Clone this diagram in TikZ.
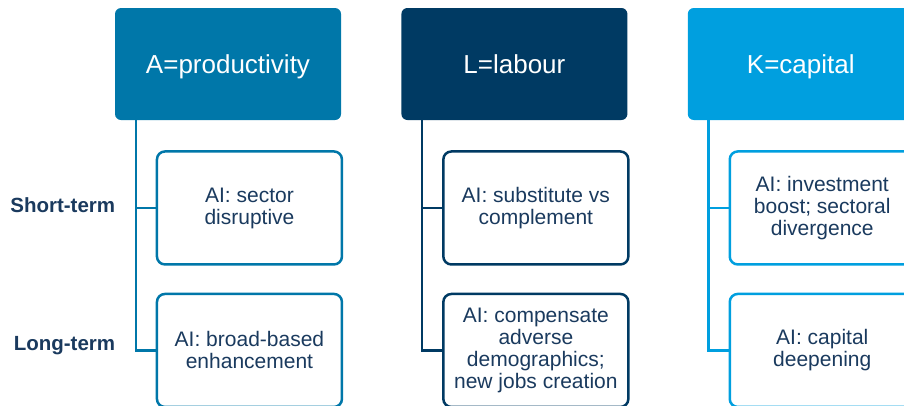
\documentclass[tikz,border=0pt]{standalone}
\usepackage{fontspec}
\setmainfont{Liberation Sans}
\usetikzlibrary{positioning}
\definecolor{prodblue}{HTML}{0077A9}
\definecolor{labnavy}{HTML}{003A63}
\definecolor{capblue}{HTML}{009FDF}
\definecolor{txtnavy}{HTML}{1A3A5E}

\begin{document}
\begin{tikzpicture}[x=1pt,y=1pt]
		\tikzstyle{head}=[rectangle, rounded corners=6pt, minimum width=226pt, minimum height=112pt, text height=18.6pt, text depth=0pt, text=white, font=\fontsize{26pt}{28pt}\selectfont, node distance=60pt]
		\tikzstyle{sub}=[rectangle, rounded corners=8pt, line width=2.5pt, fill=white, minimum width=185pt, minimum height=113pt, inner sep=0pt, align=center, text=txtnavy, font=\fontsize{21pt}{22pt}\selectfont]
		\tikzstyle{connect}=[line width=2.5pt]
		\tikzstyle{term}=[text=txtnavy, font=\bfseries\fontsize{20.5pt}{22pt}\selectfont]
		\useasboundingbox (0,0) rectangle (904,-405);
		\node[head, fill=prodblue] (a) at (228,-64) {A=productivity};
		\node[head, fill=labnavy]  (l) [right=of a] {L=labour};
		\node[head, fill=capblue]  (k) [right=of l] {K=capital};
		
		\node[sub, draw=prodblue] (a1) [below left=30pt and -2pt of a.south east] {AI: sector\\disruptive};
		\node[sub, draw=prodblue] (a2) [below=27pt of a1] {AI: broad-based\\enhancement};
		\node[sub, draw=labnavy]  (l1) [below left=30pt and -2pt of l.south east] {AI: substitute vs\\complement};
		\node[sub, draw=labnavy]  (l2) [below=27pt of l1] {AI: compensate\\adverse\\demographics;\\new jobs creation};
		\node[sub, draw=capblue]  (k1) [below left=30pt and -2pt of k.south east] {AI: investment\\boost; sectoral\\divergence};
		\node[sub, draw=capblue]  (k2) [below=27pt of k1] {AI: capital\\deepening};
		
		\node[term] (st) [left=37pt of a1, yshift=3pt] {Short-term};
		\node[term] (lt) [left=37pt of a2, yshift=5pt] {Long-term};
		
		\coordinate (ta) at ([xshift=21pt]a.south west);
		\coordinate (tl) at ([xshift=21pt]l.south west);
		\coordinate (tk) at ([xshift=21pt]k.south west);
		\draw[connect, prodblue] (ta) |- (a1.west);
		\draw[connect, prodblue] (ta) |- (a2.west);
		\draw[connect, labnavy]  (tl) |- (l1.west);
		\draw[connect, labnavy]  (tl) |- (l2.west);
		\draw[connect, capblue]  (tk) |- (k1.west);
		\draw[connect, capblue]  (tk) |- (k2.west);
		
\end{tikzpicture}
\end{document}
